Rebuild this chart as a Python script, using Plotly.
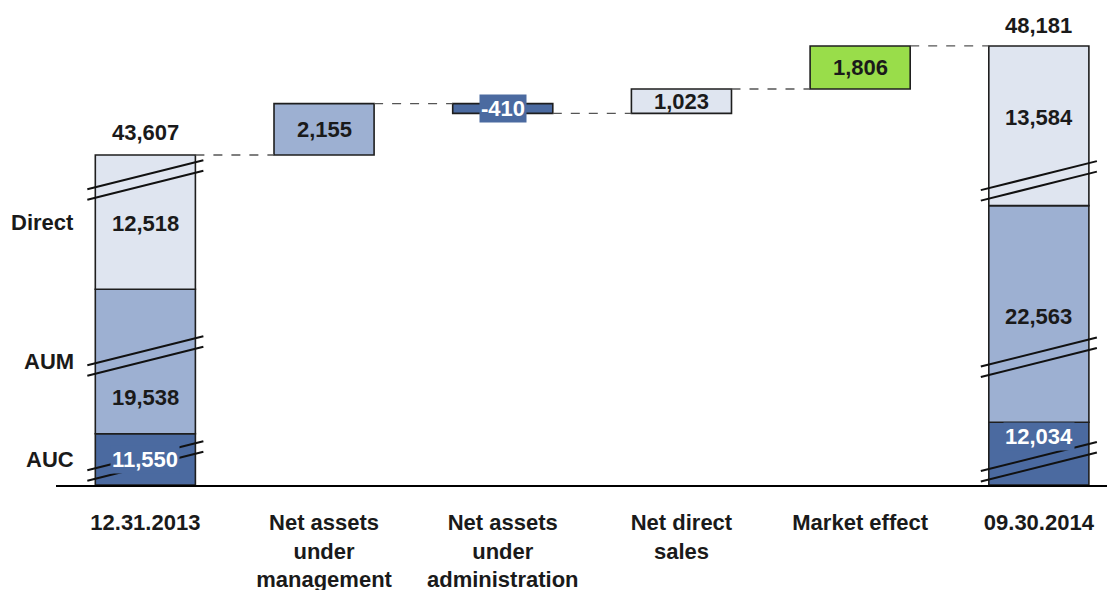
import plotly.graph_objects as go

# ---------------- data ----------------
categories = ["12.31.2013", "Net assets<br>under<br>management",
              "Net assets<br>under<br>administration", "Net direct<br>sales",
              "Market effect", "09.30.2014"]
segments = ["AUC", "AUM", "Direct"]
start_values = [11550, 19538, 12518]
end_values = [12034, 22563, 13584]
start_total = 43607
end_total = 48181
change_values = [2155, -410, 1023, 1806]

# broken axis: amount hidden by the break marks in each segment
axis_breaks = [9400, 13476, 6883]

# ---------------- style ----------------
C_AUC = "#4b6aa0"
C_AUM = "#9db0d2"
C_DIR = "#dfe5f0"
C_GREEN = "#99dd4a"
seg_colors = [C_AUC, C_AUM, C_DIR]
change_colors = [C_AUM, C_AUC, C_DIR, C_GREEN]
OUTLINE = "#1e1e1e"
TXT = "#1a1a1a"
FONT = "Liberation Sans, Arial, sans-serif"
FS = 22
BAR_W = 0.56

start_label_frac = [0.49, 0.25, 0.49]
end_label_frac = [0.78, 0.49, 0.555]
start_break_frac = [0.47, 0.538, 0.814]
end_break_frac = [0.37, 0.30, 0.155]

# page body adds an 8px offset; margins compensate for it
W, H = 1115, 590
M_L, M_R, M_T, M_B = 48, 0, 2, 113
PLOT_H = H - M_T - M_B
Y_MAX = 19930
UPP = Y_MAX / PLOT_H          # data units per pixel
X_MIN = -0.5
X_MAX = X_MIN + (W - M_L - M_R) / 178.7

fmt = lambda v: f"{v:,}"

# displayed (broken) heights
start_disp = [v - b for v, b in zip(start_values, axis_breaks)]
end_disp = [v - b for v, b in zip(end_values, axis_breaks)]

def bases(h):
    out, acc = [], 0
    for v in h:
        out.append(acc)
        acc += v
    return out, acc

start_bases, start_top = bases(start_disp)
end_bases, end_top = bases(end_disp)

fig = go.Figure()

# stacked start / end bars
for k, name in enumerate(segments):
    fig.add_trace(go.Bar(
        x=[0, 5], y=[start_disp[k], end_disp[k]],
        base=[start_bases[k], end_bases[k]], width=BAR_W,
        marker=dict(color=seg_colors[k], line=dict(color=OUTLINE, width=1.6)),
        name=name, showlegend=False, hoverinfo="skip"))

# floating change bars
levels = [start_top]
for c in change_values:
    levels.append(levels[-1] + c)
fig.add_trace(go.Bar(
    x=[1, 2, 3, 4], y=change_values, base=levels[:-1], width=BAR_W,
    marker=dict(color=change_colors, line=dict(color=OUTLINE, width=1.6)),
    showlegend=False, hoverinfo="skip"))

shapes = []
ann = []
hw = BAR_W / 2

# connectors
for i, lv in enumerate(levels):
    shapes.append(dict(type="line", xref="x", yref="y", x0=i + hw, x1=i + 1 - hw,
                       y0=lv, y1=lv, line=dict(color="#555555", width=1.3, dash="dash"),
                       layer="above"))

# break marks
def add_break(xc, yc):
    dx = hw + 8 / 178.7
    dy = 14.5 * UPP
    gap = 10.5 * UPP
    for off in (gap / 2, -gap / 2):
        shapes.append(dict(type="line", xref="x", yref="y",
                           x0=xc - dx, x1=xc + dx, y0=yc + off - dy, y1=yc + off + dy,
                           line=dict(color="#111111", width=2), layer="above"))

for k in range(3):
    add_break(0, start_bases[k] + start_break_frac[k] * start_disp[k])
    add_break(5, end_bases[k] + end_break_frac[k] * end_disp[k])

def label(x, y, text, color=TXT, bg=None, **kw):
    d = dict(x=x, y=y, xref="x", yref="y", text=text, showarrow=False,
             font=dict(family=FONT, size=FS, color=color, weight="bold"),
             xanchor="center", yanchor="middle")
    if bg:
        d.update(bgcolor=bg, borderpad=1)
    d.update(kw)
    ann.append(d)

# segment labels
for k in range(3):
    col = "white" if k == 0 else TXT
    bg = seg_colors[k]
    label(0, start_bases[k] + start_label_frac[k] * start_disp[k], fmt(start_values[k]), col, bg)
    label(5, end_bases[k] + end_label_frac[k] * end_disp[k], fmt(end_values[k]), col, bg)
    label(-0.39, start_bases[k] + 0.5 * start_disp[k], segments[k], xanchor="right")

# totals
label(0, start_top, fmt(start_total), yshift=22)
label(5, end_top, fmt(end_total), yshift=20)

# change labels
for i, c in enumerate(change_values):
    mid = levels[i] + c / 2
    if c < 0:
        label(i + 1, mid, fmt(c), "white", C_AUC)
    else:
        label(i + 1, mid, fmt(c))

fig.update_layout(
    width=W, height=H, margin=dict(l=M_L, r=M_R, t=M_T, b=M_B),
    plot_bgcolor="white", paper_bgcolor="white", barmode="overlay",
    shapes=shapes, annotations=ann,
    xaxis=dict(range=[X_MIN, X_MAX], tickvals=list(range(6)), ticktext=categories,
               showline=True, linecolor="#000000", linewidth=1.5, ticks="",
               showgrid=False, zeroline=False, fixedrange=True, automargin=False,
               tickfont=dict(family=FONT, size=FS, color=TXT, weight="bold"),
               ticklabelstandoff=17),
    yaxis=dict(range=[0, Y_MAX], visible=False, showgrid=False, zeroline=False,
               automargin=False),
)

fig.write_html("out.html")
